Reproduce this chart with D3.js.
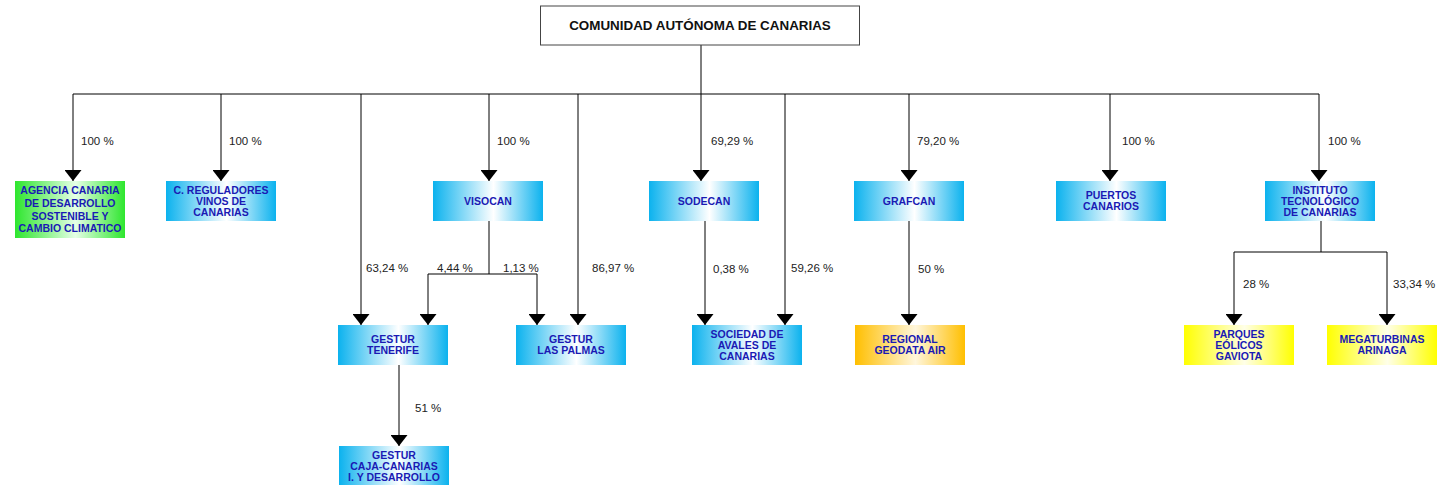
<!DOCTYPE html>
<html>
<head>
<meta charset="utf-8">
<script src="https://cdn.jsdelivr.net/npm/d3@7"></script>
<style>
  body { margin: 0; background: #fff; }
  text { font-family: "Liberation Sans", Arial, sans-serif; }
</style>
</head>
<body>
<svg id="organigrama" width="1438" height="485"></svg>
<script>
// empresas (id, nombre por lineas, tipo de color, nivel)
const ids = ["cac", "agencia", "regul", "visocan", "sodecan", "grafcan", "puertos", "itc",
  "gtenerife", "gpalmas", "avales", "geodata", "parques", "mega", "gcaja"];
const nombres = [
  ["COMUNIDAD AUTÓNOMA DE CANARIAS"],
  ["AGENCIA CANARIA", "DE DESARROLLO", "SOSTENIBLE Y", "CAMBIO CLIMATICO"],
  ["C. REGULADORES", "VINOS DE", "CANARIAS"],
  ["VISOCAN"],
  ["SODECAN"],
  ["GRAFCAN"],
  ["PUERTOS", "CANARIOS"],
  ["INSTITUTO", "TECNOLÓGICO", "DE CANARIAS"],
  ["GESTUR", "TENERIFE"],
  ["GESTUR", "LAS PALMAS"],
  ["SOCIEDAD DE", "AVALES DE", "CANARIAS"],
  ["REGIONAL", "GEODATA AIR"],
  ["PARQUES", "EÓLICOS", "GAVIOTA"],
  ["MEGATURBINAS", "ARINAGA"],
  ["GESTUR", "CAJA-CANARIAS", "I. Y DESARROLLO"]
];
const tipos = ["raiz", "verde", "azul", "azul", "azul", "azul", "azul", "azul",
  "azul", "azul", "azul", "naranja", "amarillo", "amarillo", "azul"];
const niveles = [0, 1, 1, 1, 1, 1, 1, 1, 2, 2, 2, 2, 2, 2, 3];

// participaciones (origen -> destino, porcentaje)
const origenes = ["cac", "cac", "cac", "cac", "cac", "cac", "cac", "cac", "cac", "cac",
  "visocan", "visocan", "sodecan", "grafcan", "itc", "itc", "gtenerife"];
const destinos = ["agencia", "regul", "gtenerife", "visocan", "gpalmas", "sodecan", "avales", "grafcan", "puertos", "itc",
  "gtenerife", "gpalmas", "avales", "geodata", "parques", "mega", "gcaja"];
const porcentajes = ["100 %", "100 %", "63,24 %", "100 %", "86,97 %", "69,29 %", "59,26 %", "79,20 %", "100 %", "100 %",
  "4,44 %", "1,13 %", "0,38 %", "50 %", "28 %", "33,34 %", "51 %"];

// ---- maquetacion ----
const svg = d3.select("#organigrama");
const W = +svg.attr("width");

const x = d3.scaleLinear().domain([0, 1438]).range([0, W]);
const yNivel = d3.scaleOrdinal().domain([0, 1, 2, 3]).range([6, 181, 325, 446]);

// centro x de cada caja
const centroX = {
  cac: 700, agencia: 70, regul: 221, visocan: 488, sodecan: 704, grafcan: 909, puertos: 1111, itc: 1320,
  gtenerife: 393, gpalmas: 571, avales: 747, geodata: 910, parques: 1239, mega: 1382, gcaja: 394
};
const anchoCaja = d3.scaleOrdinal().domain(["raiz", "otro"]).range([319, 110]);
const altoCaja = d3.scaleOrdinal().domain(["raiz", "agencia", "otro"]).range([39, 57, 40]);

// x de cada flecha, y del bus horizontal, y del texto y desplazamiento
const flechaX = [73, 221, 361, 489, 578, 701, 785, 909, 1110, 1319, 428, 537, 705, 909, 1234, 1387, 399];
const busY = { cac: 94, visocan: 274, itc: 252 };
const textoY = [141, 141, 268, 141, 268, 141, 268, 141, 141, 141, 268, 268, 269, 269, 284, 284, 408];
const textoDx = [8, 8, 5, 8, 14, 10, 6, 8, 12, 9, 9, -34, 8, 9, 9, 6, 16];

const colores = {
  azul: ["#0bb2ee", "#ffffff"],
  verde: ["#2ee62e", "#e6ffe6"],
  naranja: ["#ffbf00", "#fff6dc"],
  amarillo: ["#ffff00", "#ffffe8"]
};

const defs = svg.append("defs");
Object.entries(colores).forEach(([k, c]) => {
  const g = defs.append("linearGradient").attr("id", "g-" + k)
    .attr("x1", "0%").attr("x2", "100%").attr("y1", "0%").attr("y2", "0%");
  g.append("stop").attr("offset", "0%").attr("stop-color", c[0]);
  g.append("stop").attr("offset", "55%").attr("stop-color", c[1]);
  g.append("stop").attr("offset", "100%").attr("stop-color", c[0]);
});
defs.append("marker").attr("id", "punta")
  .attr("viewBox", "0 0 11 17").attr("refX", 11).attr("refY", 8.5)
  .attr("markerWidth", 11).attr("markerHeight", 17).attr("markerUnits", "userSpaceOnUse")
  .attr("orient", "auto")
  .append("path").attr("d", "M0,0 L11,8.5 L0,17 Z").attr("fill", "#000");

const nodos = ids.map((id, i) => {
  const tipo = tipos[i];
  const w = anchoCaja(tipo === "raiz" ? "raiz" : "otro");
  const h = altoCaja(tipo === "raiz" ? "raiz" : id === "agencia" ? "agencia" : "otro");
  const cx = x(centroX[id]);
  return { id, lineas: nombres[i], tipo, nivel: niveles[i], x0: cx - w / 2, y0: yNivel(niveles[i]), w, h, cx };
});
const porId = new Map(nodos.map(d => [d.id, d]));

// ---- conexiones ----
const enlaces = origenes.map((o, i) => ({
  o: porId.get(o), d: porId.get(destinos[i]), pct: porcentajes[i],
  fx: x(flechaX[i]), ty: textoY[i], dx: textoDx[i]
}));

const gLineas = svg.append("g").attr("stroke", "#000").attr("stroke-width", 1).attr("fill", "none");

// buses horizontales
d3.groups(enlaces, e => e.o.id).forEach(([id, grupo]) => {
  const o = porId.get(id);
  if (!(id in busY)) return;
  const yb = busY[id];
  const xs = grupo.map(e => e.fx);
  gLineas.append("line").attr("x1", o.cx + 1).attr("x2", o.cx + 1)
    .attr("y1", o.y0 + o.h).attr("y2", yb);
  gLineas.append("line").attr("x1", d3.min(xs)).attr("x2", d3.max(xs)).attr("y1", yb).attr("y2", yb);
});

gLineas.selectAll("path.flecha").data(enlaces).join("path")
  .attr("class", "flecha")
  .attr("d", e => {
    const y1 = (e.o.id in busY) ? busY[e.o.id] : e.o.y0 + e.o.h;
    return "M" + e.fx + "," + y1 + "V" + (e.d.y0);
  })
  .attr("marker-end", "url(#punta)");

svg.append("g").selectAll("text").data(enlaces).join("text")
  .attr("x", e => e.fx + e.dx).attr("y", e => e.ty + 4)
  .attr("font-size", 11.5).attr("fill", "#222")
  .text(e => e.pct);

// ---- cajas ----
const cajas = svg.append("g").selectAll("g").data(nodos).join("g")
  .attr("transform", d => "translate(" + d.x0 + "," + d.y0 + ")");

cajas.append("rect")
  .attr("width", d => d.w).attr("height", d => d.h)
  .attr("fill", d => d.tipo === "raiz" ? "#fff" : "url(#g-" + d.tipo + ")")
  .attr("stroke", d => d.tipo === "raiz" ? "#444" : "none")
  .attr("stroke-width", 1);

cajas.each(function (d) {
  const g = d3.select(this);
  const raiz = d.tipo === "raiz";
  const lh = raiz ? 14 : d.id === "agencia" ? 12.7 : 11;
  const n = d.lineas.length;
  g.selectAll("text").data(d.lineas).join("text")
    .attr("x", d.w / 2)
    .attr("y", (l, i) => d.h / 2 + (i - (n - 1) / 2) * lh)
    .attr("dy", "0.35em")
    .attr("text-anchor", "middle")
    .attr("font-weight", "bold")
    .attr("font-size", raiz ? 13.4 : 10.5)
    .attr("fill", raiz ? "#111" : "#1a1ab4")
    .text(l => l);
});
</script>
</body>
</html>
